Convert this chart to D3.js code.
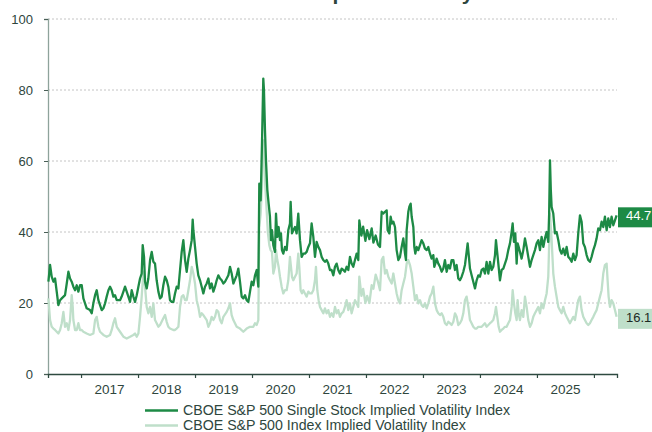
<!DOCTYPE html>
<html>
<head>
<meta charset="utf-8">
<script src="https://cdn.jsdelivr.net/npm/d3@7"></script>
<style>
  body { margin: 0; background: #fff; }
  svg { display: block; font-family: "Liberation Sans", Arial, sans-serif; }
</style>
</head>
<body>
<div id="chart"></div>
<script>
// decimal year, value
const singleStock = [
  [2016.427,26.0],[2016.456,30.7],[2016.485,27.4],[2016.515,26.0],[2016.544,26.9],[2016.573,23.2],[2016.602,19.4],[2016.632,20.8],[2016.661,21.3],[2016.719,22.2],[2016.749,25.5],[2016.778,28.8],[2016.807,26.9],[2016.836,26.0],[2016.865,24.6],[2016.895,23.6],[2016.924,25.0],[2016.953,23.2],[2016.982,25.0],
  [2017.012,25.0],[2017.041,21.3],[2017.099,18.5],[2017.158,18.0],[2017.187,17.1],[2017.216,19.9],[2017.246,22.2],[2017.275,23.6],[2017.304,20.8],[2017.333,19.4],[2017.363,18.0],[2017.392,18.5],[2017.421,19.9],[2017.450,21.8],[2017.480,23.6],[2017.509,24.6],[2017.538,23.6],[2017.567,21.8],[2017.596,22.2],[2017.626,20.8],[2017.684,20.8],[2017.713,21.8],[2017.743,23.2],[2017.772,24.6],[2017.801,23.2],[2017.830,21.8],[2017.860,20.3],[2017.889,23.6],[2017.918,21.8],[2017.947,20.3],[2017.977,22.2],
  [2018.006,24.6],[2018.035,26.9],[2018.064,28.3],[2018.082,36.3],[2018.105,33.0],[2018.123,26.0],[2018.152,24.1],[2018.181,26.9],[2018.211,32.1],[2018.240,34.4],[2018.269,31.6],[2018.298,31.1],[2018.327,26.4],[2018.357,23.2],[2018.386,21.3],[2018.415,21.8],[2018.444,25.0],[2018.474,27.4],[2018.503,26.4],[2018.532,24.6],[2018.561,20.8],[2018.591,20.3],[2018.620,20.3],[2018.649,22.7],[2018.678,24.6],[2018.708,24.1],[2018.737,29.3],[2018.766,34.4],[2018.795,37.7],[2018.825,32.1],[2018.854,28.8],[2018.883,32.5],[2018.912,34.9],[2018.942,37.7],[2018.959,43.5],[2018.971,40.5],
  [2019.000,35.8],[2019.029,31.1],[2019.058,27.8],[2019.088,26.4],[2019.117,24.6],[2019.146,22.7],[2019.175,24.6],[2019.205,25.5],[2019.234,26.9],[2019.263,24.1],[2019.292,25.5],[2019.322,23.2],[2019.351,24.6],[2019.380,26.4],[2019.409,27.8],[2019.439,26.9],[2019.468,26.4],[2019.497,25.5],[2019.526,26.0],[2019.556,26.9],[2019.585,27.8],[2019.614,30.2],[2019.643,28.3],[2019.673,25.5],[2019.731,27.8],[2019.760,29.7],[2019.789,26.0],[2019.819,21.8],[2019.848,21.3],[2019.877,22.2],[2019.906,20.8],[2019.936,20.3],[2019.965,23.2],[2019.994,26.0],
  [2020.023,25.0],[2020.053,27.8],[2020.082,29.3],[2020.111,24.6],[2020.128,53.6],[2020.152,48.9],[2020.175,64.9],[2020.198,83.2],[2020.210,79.9],[2020.228,68.6],[2020.245,60.2],[2020.269,51.8],[2020.292,48.0],[2020.315,44.3],[2020.333,37.7],[2020.350,40.5],[2020.374,36.3],[2020.403,34.4],[2020.421,45.2],[2020.444,38.6],[2020.467,41.4],[2020.491,37.7],[2020.508,39.6],[2020.526,34.9],[2020.549,33.9],[2020.578,35.8],[2020.608,34.9],[2020.637,40.5],[2020.666,42.4],[2020.678,48.5],[2020.701,39.6],[2020.725,40.5],[2020.754,41.4],[2020.783,39.6],[2020.812,45.2],[2020.842,37.7],[2020.871,33.0],[2020.900,33.9],[2020.929,33.9],[2020.959,34.4],[2020.988,35.8],
  [2021.017,36.8],[2021.046,42.4],[2021.076,38.6],[2021.105,33.0],[2021.134,37.2],[2021.163,35.8],[2021.193,34.9],[2021.222,33.0],[2021.251,32.1],[2021.280,31.6],[2021.310,32.1],[2021.339,31.1],[2021.368,29.3],[2021.397,29.3],[2021.427,27.8],[2021.456,30.2],[2021.485,31.1],[2021.514,29.3],[2021.543,28.3],[2021.573,29.7],[2021.602,29.3],[2021.631,28.8],[2021.660,30.2],[2021.690,29.3],[2021.719,33.0],[2021.748,31.1],[2021.777,30.2],[2021.807,32.1],[2021.836,33.9],[2021.865,32.1],[2021.883,43.3],
  [2021.920,39.0],[2021.950,41.5],[2021.990,37.5],[2022.020,40.5],[2022.060,38.0],[2022.100,41.0],[2022.130,37.0],[2022.170,39.0],[2022.210,36.5],
  [2022.246,35.8],[2022.275,45.7],[2022.304,45.2],[2022.334,45.7],[2022.363,46.1],[2022.380,40.5],[2022.410,39.6],[2022.433,44.3],[2022.457,42.4],[2022.480,42.9],[2022.509,41.4],[2022.538,34.9],[2022.568,32.1],[2022.597,33.0],[2022.626,35.8],[2022.655,38.2],[2022.685,33.9],[2022.702,32.1],[2022.714,40.5],[2022.743,45.7],[2022.761,47.1],[2022.784,48.0],[2022.802,44.3],[2022.831,41.4],[2022.848,35.8],[2022.866,33.9],[2022.889,35.8],[2022.918,34.9],[2022.948,36.3],[2022.977,37.7],
  [2023.006,36.8],[2023.035,35.3],[2023.065,34.9],[2023.094,35.8],[2023.123,33.9],[2023.152,32.5],[2023.182,33.5],[2023.199,30.2],[2023.217,31.1],[2023.240,32.5],[2023.269,31.1],[2023.299,30.2],[2023.328,28.8],[2023.357,29.7],[2023.386,32.1],[2023.416,28.8],[2023.445,30.7],[2023.474,29.7],[2023.503,32.1],[2023.533,32.1],[2023.562,29.3],[2023.591,30.7],[2023.620,26.9],[2023.649,26.4],[2023.679,27.4],[2023.708,28.8],[2023.737,30.7],[2023.766,34.4],[2023.784,36.8],[2023.801,33.9],[2023.825,29.7],[2023.854,27.8],[2023.883,26.0],[2023.913,24.1],[2023.942,26.4],[2023.971,27.8],
  [2024.000,27.4],[2024.030,29.3],[2024.059,29.7],[2024.088,28.3],[2024.117,31.6],[2024.147,28.3],[2024.176,31.6],[2024.205,29.3],[2024.234,30.2],[2024.264,33.5],[2024.281,37.7],[2024.305,33.9],[2024.328,30.2],[2024.351,26.4],[2024.380,29.3],[2024.410,29.7],[2024.439,31.1],[2024.468,32.5],[2024.497,34.9],[2024.527,36.8],[2024.556,40.0],[2024.574,42.4],[2024.597,37.2],[2024.620,39.6],[2024.644,31.1],[2024.661,36.8],[2024.679,35.8],[2024.702,34.4],[2024.731,32.5],[2024.761,34.9],[2024.790,38.2],[2024.819,35.8],[2024.848,33.0],[2024.878,30.2],[2024.907,32.1],[2024.936,33.5],[2024.965,34.9],[2024.995,36.8],
  [2025.024,37.7],[2025.053,34.9],[2025.082,38.6],[2025.112,35.8],[2025.141,38.2],[2025.170,40.0],[2025.199,37.2],[2025.214,45.0],[2025.229,60.2],[2025.243,52.0],[2025.258,47.0],[2025.287,45.2],[2025.316,39.6],[2025.345,40.0],[2025.375,37.7],[2025.404,34.9],[2025.433,33.9],[2025.462,35.3],[2025.492,33.5],[2025.521,35.8],[2025.550,33.0],[2025.579,32.5],[2025.609,31.6],[2025.638,33.9],[2025.667,32.1],[2025.696,33.5],[2025.725,39.6],[2025.755,44.7],[2025.784,42.9],[2025.813,36.8],[2025.842,35.8],[2025.872,33.5],[2025.901,32.1],[2025.930,31.6],[2025.959,33.0],[2025.989,34.9],
  [2026.018,36.3],[2026.047,38.2],[2026.076,41.0],[2026.106,40.5],[2026.135,42.9],[2026.164,41.4],[2026.193,44.3],[2026.223,40.5],[2026.252,43.8],[2026.281,41.4],[2026.310,44.3],[2026.340,41.9],[2026.369,43.3],[2026.398,44.7]
];

const indexVol = [
  [2016.427,21.3],[2016.456,15.2],[2016.485,13.3],[2016.515,12.8],[2016.544,12.4],[2016.573,11.9],[2016.602,11.4],[2016.632,12.4],[2016.661,14.3],[2016.690,17.5],[2016.719,13.3],[2016.749,14.3],[2016.778,12.4],[2016.807,15.2],[2016.836,22.2],[2016.854,18.9],[2016.865,15.2],[2016.895,12.4],[2016.924,12.4],[2016.953,14.3],[2016.982,12.4],
  [2017.012,12.4],[2017.041,11.9],[2017.099,11.4],[2017.158,11.0],[2017.216,11.4],[2017.246,15.2],[2017.275,16.1],[2017.304,13.3],[2017.333,11.9],[2017.392,11.0],[2017.450,10.5],[2017.509,11.0],[2017.538,12.4],[2017.567,14.3],[2017.596,15.7],[2017.626,13.3],[2017.684,11.9],[2017.743,10.5],[2017.801,10.0],[2017.860,10.5],[2017.918,11.0],[2017.947,11.4],[2017.977,10.5],
  [2018.006,11.4],[2018.035,16.1],[2018.064,21.8],[2018.094,28.8],[2018.123,24.6],[2018.152,18.9],[2018.181,17.1],[2018.211,18.9],[2018.240,16.1],[2018.269,19.9],[2018.298,15.2],[2018.327,14.3],[2018.357,13.3],[2018.386,13.8],[2018.444,15.7],[2018.474,16.6],[2018.503,14.7],[2018.532,13.3],[2018.561,12.8],[2018.620,12.4],[2018.649,12.4],[2018.678,12.8],[2018.708,13.3],[2018.737,18.9],[2018.766,21.8],[2018.795,22.2],[2018.825,20.8],[2018.854,20.8],[2018.883,23.6],[2018.912,26.4],[2018.942,30.2],[2018.971,28.3],
  [2019.000,25.5],[2019.029,20.8],[2019.058,18.9],[2019.088,16.1],[2019.117,17.1],[2019.146,16.6],[2019.205,15.2],[2019.234,13.3],[2019.263,14.3],[2019.292,16.1],[2019.322,15.2],[2019.351,16.1],[2019.380,18.0],[2019.409,17.5],[2019.439,15.2],[2019.468,14.3],[2019.497,16.1],[2019.556,17.5],[2019.585,18.5],[2019.614,19.9],[2019.643,16.6],[2019.673,15.2],[2019.731,13.3],[2019.789,12.8],[2019.848,11.9],[2019.906,12.8],[2019.965,13.3],
  [2020.023,13.3],[2020.053,14.3],[2020.082,13.8],[2020.111,15.2],[2020.128,41.4],[2020.152,45.2],[2020.175,52.7],[2020.198,65.8],[2020.216,65.8],[2020.234,52.7],[2020.257,46.1],[2020.280,39.6],[2020.304,36.3],[2020.327,34.9],[2020.350,34.4],[2020.374,28.3],[2020.403,30.2],[2020.421,34.9],[2020.444,32.1],[2020.467,30.2],[2020.491,27.4],[2020.520,24.6],[2020.549,22.7],[2020.578,23.6],[2020.608,23.6],[2020.637,26.4],[2020.666,33.0],[2020.684,30.2],[2020.701,27.4],[2020.725,26.4],[2020.754,27.4],[2020.783,28.3],[2020.812,33.9],[2020.830,30.2],[2020.853,23.6],[2020.877,22.7],[2020.900,23.6],[2020.929,22.7],[2020.959,21.8],[2020.988,23.2],
  [2021.017,22.7],[2021.046,22.7],[2021.076,23.6],[2021.105,26.4],[2021.122,30.2],[2021.146,23.6],[2021.169,20.8],[2021.193,18.9],[2021.222,18.0],[2021.251,17.1],[2021.280,18.5],[2021.310,17.1],[2021.339,18.0],[2021.368,16.1],[2021.397,17.1],[2021.427,16.1],[2021.456,18.9],[2021.485,17.1],[2021.514,18.0],[2021.543,16.1],[2021.573,17.1],[2021.602,17.5],[2021.631,18.9],[2021.660,20.8],[2021.690,18.0],[2021.719,19.9],[2021.748,17.1],[2021.777,18.9],[2021.807,20.8],[2021.836,19.9],[2021.865,18.9],[2021.883,27.4],
  [2021.920,22.0],[2021.950,24.0],[2021.990,20.0],[2022.020,22.0],[2022.060,20.0],[2022.100,25.0],[2022.130,24.0],[2022.170,28.0],[2022.210,26.0],
  [2022.246,23.6],[2022.275,32.1],[2022.304,33.0],[2022.334,28.3],[2022.363,29.3],[2022.392,27.4],[2022.421,26.4],[2022.451,25.5],[2022.480,28.3],[2022.509,25.5],[2022.538,22.7],[2022.568,20.8],[2022.597,19.9],[2022.626,23.6],[2022.655,25.5],[2022.685,27.4],[2022.714,31.1],[2022.743,32.1],[2022.772,30.7],[2022.802,28.3],[2022.831,24.6],[2022.860,20.8],[2022.889,22.2],[2022.918,19.9],[2022.948,20.8],[2022.977,19.4],
  [2023.006,18.9],[2023.035,19.9],[2023.065,18.5],[2023.094,19.9],[2023.123,21.8],[2023.152,22.7],[2023.182,24.6],[2023.211,19.9],[2023.240,18.0],[2023.269,17.1],[2023.299,16.6],[2023.328,17.1],[2023.357,16.1],[2023.386,14.3],[2023.416,13.8],[2023.445,14.7],[2023.474,14.3],[2023.503,13.8],[2023.533,14.7],[2023.562,17.1],[2023.591,16.1],[2023.620,13.8],[2023.649,14.3],[2023.679,15.2],[2023.708,17.1],[2023.737,20.8],[2023.766,21.8],[2023.796,18.9],[2023.825,15.2],[2023.854,14.3],[2023.883,13.3],[2023.913,12.8],[2023.942,12.8],[2023.971,13.3],
  [2024.000,13.3],[2024.030,13.3],[2024.059,13.8],[2024.088,14.3],[2024.117,13.3],[2024.147,13.8],[2024.176,14.3],[2024.205,14.7],[2024.234,15.2],[2024.264,17.1],[2024.281,18.9],[2024.305,16.1],[2024.328,13.3],[2024.351,11.9],[2024.380,12.4],[2024.410,12.8],[2024.439,13.3],[2024.468,13.3],[2024.497,14.3],[2024.527,15.2],[2024.556,18.9],[2024.574,23.6],[2024.597,19.9],[2024.620,17.1],[2024.644,15.2],[2024.661,20.8],[2024.679,17.1],[2024.702,15.2],[2024.731,18.0],[2024.761,16.1],[2024.790,21.8],[2024.819,18.9],[2024.848,15.2],[2024.878,13.3],[2024.907,14.3],[2024.936,16.1],[2024.965,17.1],[2024.995,18.0],
  [2025.024,18.9],[2025.053,17.1],[2025.082,19.9],[2025.112,18.5],[2025.141,20.8],[2025.170,22.7],[2025.199,27.4],[2025.229,45.2],[2025.258,37.7],[2025.287,28.3],[2025.316,24.6],[2025.345,21.8],[2025.375,18.9],[2025.404,18.0],[2025.433,17.1],[2025.462,18.9],[2025.492,17.1],[2025.521,16.1],[2025.550,15.2],[2025.579,14.3],[2025.609,15.2],[2025.638,16.1],[2025.667,15.2],[2025.696,18.0],[2025.725,20.8],[2025.755,21.8],[2025.784,18.0],[2025.813,16.1],[2025.842,15.2],[2025.872,14.3],[2025.901,13.8],[2025.930,14.3],[2025.959,15.2],[2025.989,16.1],
  [2026.018,17.1],[2026.047,18.0],[2026.076,19.9],[2026.106,21.8],[2026.135,23.6],[2026.164,28.3],[2026.193,30.7],[2026.223,31.1],[2026.240,26.4],[2026.258,21.8],[2026.281,18.9],[2026.310,20.8],[2026.340,19.9],[2026.369,18.0],[2026.398,16.1]
];

const seriesNames = [
  "CBOE S&P 500 Single Stock Implied Volatility Index",
  "CBOE S&P 500 Index Implied Volatility Index"
];
const seriesColors = ["#1d8a45", "#bfdfca"];
const lastValues = [44.7, 16.1];
const yearTicks = [2017, 2018, 2019, 2020, 2021, 2022, 2023, 2024, 2025, 2026];
const yearLabels = ["2017", "2018", "2019", "2020", "2021", "2022", "2023", "2024", "2025"];
const yTicks = [0, 20, 40, 60, 80, 100];
const title = "S&P 500 Implied Volatility";

const width = 652, height = 432;
const margin = { top: 19, right: 35, bottom: 58, left: 48 };

const svg = d3.select("#chart").append("svg")
  .attr("width", width)
  .attr("height", height);

const x = d3.scaleLinear()
  .domain([2016.42, 2026.405])
  .range([margin.left, width - margin.right]);

const y = d3.scaleLinear()
  .domain([0, 100])
  .range([height - margin.bottom, margin.top]);

const textColor = "#2e463d";

// title: only its descenders reach into the picture
svg.append("text")
  .attr("x", 346)
  .attr("y", -0.5)
  .attr("text-anchor", "middle")
  .attr("font-size", 21)
  .attr("font-weight", "bold")
  .attr("fill", "#2e463d")
  .text(title);

// gridlines
svg.append("g")
  .selectAll("line")
  .data(yTicks.filter(d => d > 0))
  .join("line")
  .attr("x1", margin.left)
  .attr("x2", width - margin.right)
  .attr("y1", d => y(d))
  .attr("y2", d => y(d))
  .attr("stroke", "#c4c4c4")
  .attr("stroke-width", 1)
  .attr("stroke-dasharray", "2,2");

// y axis
const yAxis = svg.append("g")
  .attr("transform", `translate(${margin.left},0)`)
  .call(d3.axisLeft(y).tickValues(yTicks).tickSize(4).tickPadding(11));
yAxis.select(".domain").attr("stroke", "#8ea39b").attr("stroke-width", 1.3);
yAxis.selectAll(".tick line").attr("stroke", "#4a5f57");
yAxis.selectAll(".tick text")
  .attr("font-size", 13)
  .attr("fill", textColor)
  .attr("font-family", "'Liberation Sans', Arial, sans-serif");

// lines (light first so the dark one sits on top)
const line = d3.line()
  .x(d => x(d[0]))
  .y(d => y(d[1]));

svg.append("path")
  .datum(indexVol)
  .attr("fill", "none")
  .attr("stroke", seriesColors[1])
  .attr("stroke-width", 2.3)
  .attr("stroke-linejoin", "round")
  .attr("d", line);

svg.append("path")
  .datum(singleStock)
  .attr("fill", "none")
  .attr("stroke", seriesColors[0])
  .attr("stroke-width", 2.3)
  .attr("stroke-linejoin", "round")
  .attr("d", line);

// x axis
const xAxis = svg.append("g")
  .attr("transform", `translate(0,${y(0)})`)
  .call(d3.axisBottom(x).tickValues(yearTicks).tickSize(4).tickFormat(""));
xAxis.select(".domain").attr("stroke", "#2e4a40").attr("stroke-width", 1.3);
xAxis.selectAll(".tick line").attr("stroke", "#2e4a40").attr("stroke-width", 1.2);

svg.append("g")
  .selectAll("text")
  .data(yearLabels)
  .join("text")
  .attr("x", d => x(+d + 0.5))
  .attr("y", y(0) + 19.5)
  .attr("text-anchor", "middle")
  .attr("font-size", 13.5)
  .attr("fill", textColor)
  .text(d => d);

// end-of-line value boxes
const boxes = svg.append("g")
  .selectAll("g")
  .data(lastValues)
  .join("g")
  .attr("transform", d => `translate(${width - margin.right + 1},${y(d)})`);
boxes.append("rect")
  .attr("x", 0)
  .attr("y", -8)
  .attr("width", 40)
  .attr("height", 20)
  .attr("fill", (d, i) => seriesColors[i]);
boxes.append("text")
  .attr("x", 8)
  .attr("y", 5)
  .attr("font-size", 13)
  .attr("fill", (d, i) => i === 0 ? "#ffffff" : "#1c2a24")
  .text(d => d.toFixed(1));

// legend
const legend = svg.append("g")
  .selectAll("g")
  .data(seriesNames)
  .join("g")
  .attr("transform", (d, i) => `translate(145,${410.5 + i * 15})`);
legend.append("line")
  .attr("x1", 0)
  .attr("x2", 33)
  .attr("stroke", (d, i) => seriesColors[i])
  .attr("stroke-width", 2.5);
legend.append("text")
  .attr("x", 38)
  .attr("y", 4.5)
  .attr("font-size", 14.2)
  .attr("fill", textColor)
  .text(d => d);
</script>
</body>
</html>
